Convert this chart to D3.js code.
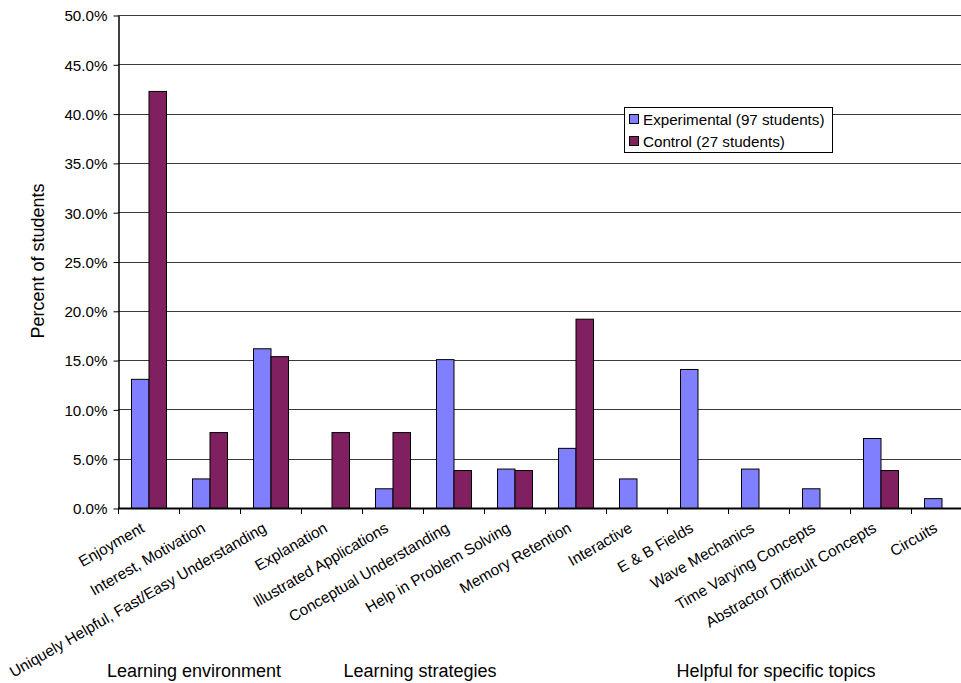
<!DOCTYPE html>
<html><head><meta charset="utf-8">
<script src="https://cdn.jsdelivr.net/npm/d3@7"></script>
<style>body{margin:0;background:#fff;}svg{display:block;font-family:"Liberation Sans",Arial,sans-serif;}</style>
</head><body>
<svg id="c" width="961" height="683"></svg>
<script>
const categories = ["Enjoyment","Interest, Motivation","Uniquely Helpful, Fast/Easy Understanding","Explanation","Illustrated Applications","Conceptual Understanding","Help in Problem Solving","Memory Retention","Interactive","E & B Fields","Wave Mechanics","Time Varying Concepts","Abstractor Difficult Concepts","Circuits"];
const experimental = [13.1,3.0,16.2,0,2.0,15.1,4.0,6.1,3.0,14.1,4.0,2.0,7.1,1.0];
const control = [42.3,7.7,15.4,7.7,7.7,3.85,3.85,19.2,0,0,0,0,3.85,0];
const seriesNames = ["Experimental (97 students)","Control (27 students)"];
const seriesColors = ["#8080FF","#802060"];
const yTicks = [0,5,10,15,20,25,30,35,40,45,50];
const groups = [{label:"Learning environment",from:0,to:3},{label:"Learning strategies",from:3,to:8},{label:"Helpful for specific topics",from:8,to:14}];
const groupCenters = [194,420,776];

const svg = d3.select("#c");
const mLeft=118, mTop=15, plotH=493, plotW=854;
const x = d3.scaleBand().domain(categories).range([mLeft,mLeft+plotW]).padding(0);
const y = d3.scaleLinear().domain([0,50]).range([mTop+plotH,mTop]);
const inner = d3.scaleBand().domain([0,1]).range([x.bandwidth()*13/61, x.bandwidth()*48/61]).padding(0);

// gridlines
svg.append("g").selectAll("line").data(yTicks.filter(d=>d>0)).join("line")
  .attr("x1",mLeft).attr("x2",mLeft+plotW)
  .attr("y1",d=>Math.round(y(d))+0.5).attr("y2",d=>Math.round(y(d))+0.5)
  .attr("stroke","#3a3a3a").attr("stroke-width",1);

// bars
const data = [experimental, control];
data.forEach((vals,si)=>{
  svg.append("g").selectAll("rect").data(categories.map((c,i)=>({c,v:vals[i]})).filter(d=>d.v>0)).join("rect")
    .attr("x",d=>x(d.c)+inner(si)+0.5)
    .attr("y",d=>y(d.v)+0.5)
    .attr("width",inner.bandwidth())
    .attr("height",d=>y(0)-y(d.v))
    .attr("fill",seriesColors[si]).attr("stroke","#000").attr("stroke-width",1);
});

// y axis
const yAxis = d3.axisLeft(y).tickValues(yTicks).tickFormat(d=>d.toFixed(1)+"%").tickSize(5).tickSizeOuter(0);
const ya = svg.append("g").attr("transform",`translate(${mLeft+0.5},0.5)`).call(yAxis);
ya.select(".domain").attr("stroke","#000").attr("stroke-width",1.5);
ya.selectAll(".tick line").attr("stroke","#000");
ya.selectAll(".tick text").attr("font-size",15.2).attr("fill","#000").attr("x",-11).attr("dy","0.35em").attr("font-family","Liberation Sans, Arial, sans-serif");

// x axis
const boundaries = d3.range(categories.length+1).map(i=>mLeft+i*x.bandwidth());
svg.append("line").attr("x1",mLeft).attr("x2",mLeft+plotW).attr("y1",y(0)+0.5).attr("y2",y(0)+0.5).attr("stroke","#000").attr("stroke-width",2);
svg.append("g").selectAll("line").data(boundaries).join("line")
  .attr("x1",d=>Math.round(d)+0.5).attr("x2",d=>Math.round(d)+0.5)
  .attr("y1",y(0)).attr("y2",y(0)+6).attr("stroke","#000");

svg.append("g").selectAll("text").data(categories).join("text")
  .attr("transform",d=>`translate(${x(d)+x.bandwidth()/2-3},531) rotate(-30)`)
  .attr("text-anchor","end").attr("font-size",15.4).attr("fill","#000").text(d=>d);

// group labels
svg.append("g").selectAll("text").data(groups).join("text")
  .attr("x",(d,i)=>groupCenters[i]).attr("y",677).attr("text-anchor","middle")
  .attr("font-size",18).attr("fill","#000").text(d=>d.label);

// y title
svg.append("text").attr("transform","translate(44,261) rotate(-90)").attr("text-anchor","middle")
  .attr("font-size",18).attr("fill","#000").text("Percent of students");

// legend
const lg = svg.append("g");
lg.append("rect").attr("x",624.5).attr("y",107.5).attr("width",208).attr("height",45).attr("fill","#fff").attr("stroke","#000");
seriesNames.forEach((n,i)=>{
  lg.append("rect").attr("x",629.5).attr("y",114.5+i*22).attr("width",9).attr("height",9).attr("fill",seriesColors[i]).attr("stroke","#000");
  lg.append("text").attr("x",643).attr("y",125+i*22).attr("font-size",15.2).attr("fill","#000").text(n);
});
</script>
</body></html>
